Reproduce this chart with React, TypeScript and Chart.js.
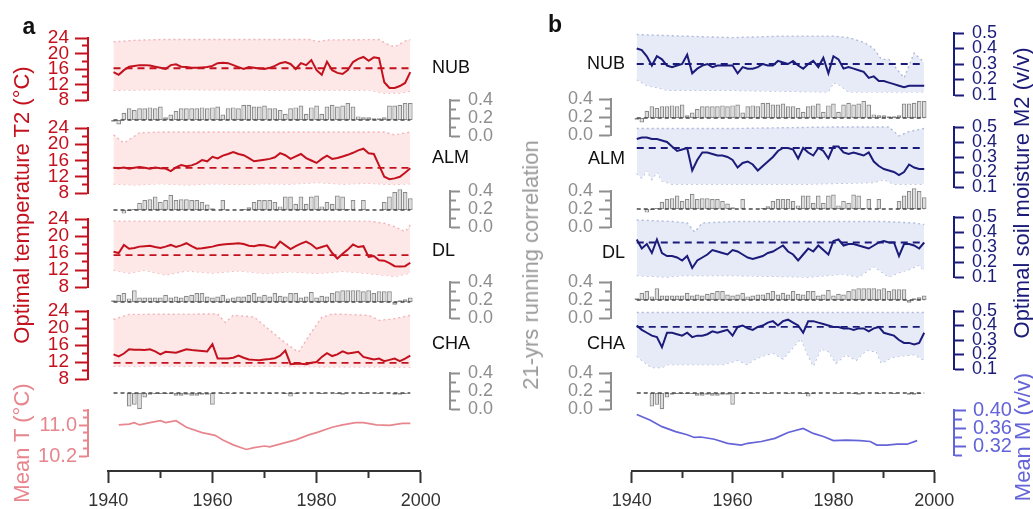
import React, { useEffect, useRef } from 'react';
import { Chart, registerables } from 'chart.js';
Chart.register(...registerables);

const FONT = '"Liberation Sans", Arial, Helvetica, sans-serif';
Chart.defaults.font.family = FONT;

// ---------------- data ----------------
const YEARS = [1941, 1942, 1943, 1944, 1945, 1946, 1947, 1948, 1949, 1950,
  1951, 1952, 1953, 1954, 1955, 1956, 1957, 1958, 1959, 1960,
  1961, 1962, 1963, 1964, 1965, 1966, 1967, 1968, 1969, 1970,
  1971, 1972, 1973, 1974, 1975, 1976, 1977, 1978, 1979, 1980,
  1981, 1982, 1983, 1984, 1985, 1986, 1987, 1988, 1989, 1990,
  1991, 1992, 1993, 1994, 1995, 1996, 1997, 1998];

const SITES = ['NUB', 'ALM', 'DL', 'CHA'];

// optimal temperature T2 (°C), panel a
const T_NUB = [15.2, 14.5, 15.7, 16.6, 16.8, 17.0, 17.0, 16.9, 16.6, 16.3,
  16.0, 17.0, 17.2, 16.6, 16.5, 16.3, 16.3, 16.4, 16.5, 16.8,
  17.5, 17.6, 17.5, 17.0, 16.5, 16.0, 16.5, 16.3, 16.1, 16.0,
  16.3, 16.8, 17.5, 17.8, 17.3, 16.0, 17.5, 17.0, 18.3, 15.7,
  14.5, 17.9, 15.7, 15.0, 14.7, 15.7, 17.8, 18.6, 19.1, 18.1,
  19.0, 18.8, 12.6, 11.1, 11.1, 11.6, 12.4, 15.2];
const T_ALM = [14.2, 14.1, 14.3, 14.0, 14.2, 14.4, 14.2, 14.0, 14.3, 14.1,
  14.0, 13.4, 14.3, 14.9, 14.6, 14.8, 15.3, 16.1, 15.8, 16.9,
  16.5, 17.2, 17.6, 18.1, 17.6, 17.3, 16.6, 15.8, 16.0, 16.2,
  16.4, 16.8, 17.8, 17.3, 16.4, 17.0, 17.6, 16.6, 16.0, 15.4,
  16.4, 17.2, 16.4, 16.6, 17.0, 17.4, 17.9, 18.5, 18.9, 17.8,
  17.6, 14.8, 12.0, 11.4, 11.6, 12.0, 13.0, 14.1];
const T_DL = [16.3, 16.0, 17.9, 17.0, 17.2, 17.5, 17.6, 17.7, 17.4, 17.2,
  17.5, 17.9, 17.4, 17.8, 18.3, 17.6, 17.0, 17.1, 17.3, 17.5,
  17.8, 18.0, 18.1, 18.2, 18.3, 18.1, 17.7, 17.6, 17.9, 17.8,
  17.5, 17.2, 18.7, 17.8, 16.9, 17.6, 18.2, 18.7, 18.0, 17.0,
  17.4, 17.8, 16.0, 14.7, 15.8, 16.8, 18.0, 17.4, 17.6, 15.1,
  15.3, 14.3, 14.2, 13.6, 12.9, 12.8, 12.9, 13.7];
const T_CHA = [13.8, 13.3, 14.0, 15.0, 14.9, 14.9, 14.8, 15.0, 14.5, 13.8,
  14.4, 14.3, 14.2, 14.6, 15.0, 14.8, 14.7, 14.6, 14.5, 16.2,
  12.8, 12.8, 12.8, 13.0, 13.5, 13.0, 12.6, 12.5, 12.4, 12.6,
  12.7, 12.9, 13.5, 14.7, 11.5, 11.6, 11.6, 11.5, 11.8, 12.0,
  13.2, 14.1, 13.4, 13.8, 14.5, 14.0, 14.2, 14.4, 13.2, 12.9,
  12.6, 12.8, 12.2, 12.5, 12.8, 12.2, 12.8, 13.5];
const T_OPT = [16.2, 14.2, 15.5, 11.8];

// upper / lower envelope of T2, [year, °C]
const T_UP_NUB = [[1941, 23.0], [1945, 23.4], [1950, 23.6], [1979, 23.6], [1980, 23.0], [1982, 23.5], [1992, 23.6], [1993.5, 22.5], [1995, 21.7], [1997, 23.2], [1998, 23.6]];
const T_LO_NUB = [[1941, 10.5], [1950, 10.7], [1970, 10.6], [1990, 10.6], [1993, 9.8], [1996, 9.8], [1998, 10.3]];
const T_UP_ALM = [[1941, 22.3], [1943, 20.3], [1946, 22.8], [1950, 23.0], [1993, 23.0], [1995, 22.3], [1998, 23.0]];
const T_LO_ALM = [[1941, 10.2], [1945, 10.0], [1950, 10.3], [1955, 10.0], [1960, 10.3], [1965, 10.1], [1970, 10.3], [1975, 10.2], [1980, 10.6], [1985, 10.2], [1990, 10.4], [1995, 10.1], [1998, 10.3]];
const T_UP_DL = [[1941, 23.5], [1990, 23.5], [1993, 23.0], [1995, 22.2], [1997, 21.0], [1998, 22.6]];
const T_LO_DL = [[1941, 12.0], [1944, 11.3], [1947, 12.0], [1951, 10.8], [1955, 11.8], [1960, 11.3], [1965, 11.8], [1970, 11.2], [1975, 11.6], [1980, 11.2], [1985, 11.7], [1990, 11.2], [1995, 10.5], [1998, 11.3]];
const T_UP_CHA = [[1941, 22.0], [1944, 23.2], [1961, 23.3], [1962.5, 21.3], [1964, 23.0], [1968, 22.6], [1971, 19.5], [1974, 16.5], [1976.5, 14.3], [1979, 19.0], [1981, 22.5], [1983, 23.3], [1990, 23.0], [1992, 21.8], [1995, 22.2], [1998, 23.0]];
const T_LO_CHA = [[1941, 11.0], [1950, 11.1], [1960, 10.9], [1970, 11.0], [1980, 10.9], [1990, 10.9], [1998, 10.8]];

// mean temperature, [year, °C]
const MEAN_T = [[1942, 11.01], [1944, 11.03], [1945, 11.07], [1946, 11.01], [1948, 11.07], [1950, 11.12], [1951, 11.07], [1953, 11.12], [1955, 10.95], [1958, 10.81], [1960.5, 10.74], [1962, 10.62], [1964, 10.49], [1966.5, 10.37], [1968, 10.42], [1970, 10.46], [1971, 10.44], [1974, 10.55], [1976, 10.62], [1978.5, 10.75], [1980, 10.81], [1983, 10.95], [1985, 11.01], [1987.5, 11.07], [1989, 11.07], [1991.5, 11.01], [1994, 11.0], [1996.5, 11.05], [1998, 11.05]];

// 21-yr running correlation (shared by both panels)
const R_NUB = [-0.02, -0.05, 0.08, 0.13, 0.11, 0.13, 0.13, 0.14, 0.13, 0.15,
  0.03, 0.06, 0.10, 0.13, 0.13, 0.13, 0.13, 0.14, 0.13, 0.14,
  0.15, 0.06, 0.13, 0.14, 0.13, 0.17, 0.17, 0.15, 0.15, 0.16,
  0.13, 0.13, 0.11, 0.07, 0.13, 0.14, 0.16, 0.07, 0.14, 0.16,
  0.07, 0.15, 0.17, 0.15, 0.16, 0.19, 0.15, 0.04, 0.03, 0.03,
  0.02, 0.02, 0.03, 0.16, 0.16, 0.17, 0.19, 0.19];
const R_ALM = [0.0, 0.0, -0.04, -0.01, 0.01, 0.08, 0.11, 0.12, 0.15, 0.09,
  0.11, 0.17, 0.11, 0.12, 0.12, 0.11, 0.11, 0.09, 0.06, 0.02,
  0.0, 0.11, 0.0, 0.0, 0.0, 0.01, 0.03, 0.09, 0.11, 0.11,
  0.11, 0.09, 0.04, 0.15, 0.15, 0.07, 0.15, 0.07, 0.15, 0.16,
  0.04, 0.09, 0.07, 0.16, 0.15, 0.01, 0.11, 0.0, 0.11, 0.0,
  0.0, 0.0, 0.09, 0.15, 0.20, 0.23, 0.20, 0.13];
const R_DL = [0.02, 0.08, 0.10, 0.04, 0.13, 0.05, 0.05, 0.05, 0.05, 0.05,
  0.08, 0.05, 0.06, 0.05, 0.07, 0.08, 0.10, 0.10, 0.06, 0.05,
  0.06, 0.08, 0.04, 0.05, 0.06, 0.06, 0.08, 0.10, 0.06, 0.08,
  0.06, 0.10, 0.07, 0.06, 0.10, 0.10, 0.05, 0.06, 0.11, 0.05,
  0.07, 0.06, 0.10, 0.12, 0.13, 0.13, 0.13, 0.13, 0.12, 0.13,
  0.10, 0.12, 0.12, 0.12, -0.03, 0.02, 0.03, 0.05];
const R_CHA = [0.0, 0.0, 0.0, -0.15, -0.13, -0.18, -0.05, -0.02, -0.01, -0.01,
  -0.01, -0.01, -0.03, -0.03, -0.02, -0.03, -0.03, -0.02, -0.02, -0.13,
  0.0, -0.01, 0.0, -0.01, 0.0, 0.0, -0.01, 0.0, 0.0, 0.0,
  -0.01, 0.0, 0.0, -0.01, -0.04, -0.01, 0.0, 0.0, 0.0, 0.0,
  -0.01, 0.0, 0.0, -0.01, -0.02, 0.0, 0.0, 0.0, -0.01, 0.0,
  0.0, -0.01, 0.0, 0.0, -0.02, -0.02, -0.01, 0.0];

// optimal soil moisture M2 (v/v), panel b
const M_NUB = [0.40, 0.39, 0.35, 0.29, 0.35, 0.33, 0.29, 0.28, 0.29, 0.30,
  0.36, 0.24, 0.27, 0.29, 0.30, 0.28, 0.29, 0.29, 0.29, 0.29,
  0.24, 0.28, 0.27, 0.27, 0.28, 0.30, 0.29, 0.29, 0.32, 0.31,
  0.30, 0.32, 0.29, 0.27, 0.30, 0.32, 0.28, 0.34, 0.24, 0.35,
  0.33, 0.27, 0.28, 0.27, 0.26, 0.25, 0.21, 0.22, 0.19, 0.19,
  0.18, 0.17, 0.16, 0.15, 0.16, 0.16, 0.16, 0.16];
const M_ALM = [0.42, 0.43, 0.43, 0.42, 0.42, 0.41, 0.40, 0.37, 0.34, 0.35,
  0.36, 0.21, 0.28, 0.33, 0.33, 0.32, 0.31, 0.31, 0.30, 0.28,
  0.23, 0.26, 0.27, 0.25, 0.21, 0.24, 0.27, 0.30, 0.34, 0.36,
  0.36, 0.35, 0.29, 0.36, 0.33, 0.31, 0.36, 0.34, 0.29, 0.37,
  0.37, 0.33, 0.32, 0.33, 0.32, 0.31, 0.33, 0.27, 0.24, 0.22,
  0.21, 0.20, 0.18, 0.20, 0.25, 0.23, 0.22, 0.22];
const M_DL = [0.35, 0.29, 0.32, 0.26, 0.35, 0.26, 0.24, 0.24, 0.23, 0.21,
  0.24, 0.16, 0.21, 0.23, 0.25, 0.28, 0.27, 0.26, 0.25, 0.28,
  0.27, 0.25, 0.23, 0.22, 0.23, 0.24, 0.26, 0.27, 0.29, 0.31,
  0.27, 0.25, 0.21, 0.25, 0.29, 0.27, 0.31, 0.28, 0.25, 0.34,
  0.35, 0.31, 0.32, 0.32, 0.31, 0.30, 0.29, 0.31, 0.33, 0.34,
  0.33, 0.33, 0.24, 0.32, 0.32, 0.31, 0.29, 0.33];
const M_CHA = [0.40, 0.37, 0.35, 0.33, 0.32, 0.25, 0.35, 0.35, 0.34, 0.33,
  0.35, 0.32, 0.33, 0.33, 0.34, 0.36, 0.35, 0.36, 0.37, 0.33,
  0.39, 0.40, 0.38, 0.37, 0.39, 0.40, 0.42, 0.43, 0.40, 0.43,
  0.44, 0.42, 0.40, 0.35, 0.43, 0.43, 0.42, 0.41, 0.40, 0.39,
  0.39, 0.38, 0.38, 0.37, 0.38, 0.38, 0.36, 0.38, 0.39, 0.35,
  0.34, 0.33, 0.30, 0.28, 0.28, 0.27, 0.28, 0.35];
const M_OPT = [0.30, 0.36, 0.33, 0.39];

const M_UP_NUB = [[1941, 0.49], [1950, 0.48], [1960, 0.47], [1970, 0.48], [1980, 0.48], [1983, 0.47], [1986, 0.44], [1988, 0.40], [1989.5, 0.33], [1991, 0.33], [1992.5, 0.27], [1994, 0.21], [1996, 0.37], [1998, 0.31]];
const M_LO_NUB = [[1941, 0.20], [1943, 0.16], [1945, 0.15], [1947, 0.13], [1960, 0.13], [1979, 0.12], [1980, 0.18], [1981, 0.17], [1983, 0.12], [1998, 0.12]];
const M_UP_ALM = [[1941, 0.49], [1960, 0.49], [1980, 0.50], [1991, 0.50], [1993, 0.44], [1995, 0.47], [1998, 0.49]];
const M_LO_ALM = [[1941, 0.19], [1942, 0.16], [1943, 0.21], [1944, 0.15], [1945, 0.20], [1946, 0.14], [1948, 0.12], [1960, 0.12], [1975, 0.12], [1988, 0.13], [1990, 0.15], [1992, 0.12], [1998, 0.12]];
const M_UP_DL = [[1941, 0.48], [1948, 0.47], [1951, 0.46], [1952.5, 0.40], [1954, 0.46], [1960, 0.47], [1990, 0.47], [1996, 0.46], [1998, 0.45]];
const M_LO_DL = [[1941, 0.11], [1947, 0.10], [1950, 0.11], [1960, 0.11], [1975, 0.10], [1982, 0.12], [1985, 0.10], [1988, 0.17], [1991, 0.10], [1993, 0.13], [1995, 0.15], [1997, 0.18], [1998, 0.14]];
const M_UP_CHA = [[1941, 0.49], [1960, 0.49], [1980, 0.49], [1998, 0.49]];
const M_LO_CHA = [[1941, 0.19], [1942, 0.16], [1944, 0.11], [1946, 0.11], [1947, 0.13], [1950, 0.13], [1958, 0.13], [1961, 0.16], [1963, 0.13], [1964, 0.16], [1966, 0.19], [1968, 0.21], [1970, 0.17], [1972, 0.25], [1973.5, 0.31], [1975, 0.19], [1976, 0.12], [1977.5, 0.24], [1979, 0.22], [1980.5, 0.14], [1982.5, 0.20], [1984.5, 0.16], [1986.5, 0.23], [1988.5, 0.22], [1989.5, 0.14], [1991.5, 0.18], [1993.5, 0.19], [1996, 0.20], [1998, 0.16]];

const MEAN_M = [[1941, 0.390], [1943.6, 0.378], [1946, 0.363], [1948.7, 0.352], [1951, 0.345], [1952.4, 0.339], [1953.7, 0.340], [1956.4, 0.335], [1959, 0.326], [1961.7, 0.322], [1963, 0.326], [1965.7, 0.330], [1968.4, 0.337], [1971, 0.350], [1974, 0.359], [1976, 0.348], [1978, 0.341], [1980, 0.332], [1982.6, 0.333], [1985.3, 0.332], [1987.3, 0.330], [1988.6, 0.322], [1990.6, 0.322], [1992.6, 0.324], [1994.6, 0.324], [1996.6, 0.332]];

// ticks
const X_TICKS = [1940, 1950, 1960, 1970, 1980, 1990, 2000];
const X_LABELS = [1940, 1960, 1980, 2000];
const T_TICKS = [8, 10, 12, 14, 16, 18, 20, 22, 24];
const T_LABELS = [8, 12, 16, 20, 24];
const R_TICKS = [0, 0.1, 0.2, 0.3, 0.4];
const R_LABELS = [0, 0.2, 0.4];
const M_TICKS = [0.1, 0.2, 0.3, 0.4, 0.5];
const MT_TICKS = [10.2, 10.4, 10.6, 10.8, 11.0, 11.2, 11.4];
const MT_LABELS = [10.2, 11.0];
const MM_TICKS = [0.30, 0.32, 0.34, 0.36, 0.38, 0.40];
const MM_LABELS = [0.32, 0.36, 0.40];

// ---------------- styles & layout ----------------
const CW = 1033, CH = 509, TOP = 30, XAX_H = 38, BOTTOM = CH - XAX_H;
const BAR_PX = 90; // px per correlation unit (0.4 spans 36 px)
const RED = '#c3121e', MEANT_C = '#e8868e', T_FILL = '#fde7e7', T_DOT = '#f2b3b8';
const NAVY = '#1b1b7a', MEANM_C = '#6464d8', M_FILL = '#e7ebf8', M_DOT = '#b1badb';
const GRAY = '#8e8e8e', BAR_FILL = '#dcdcdc', BAR_EDGE = '#8a8a8a', BASE_C = '#4a4a4a';
const AX_C = '#333333';

const A_T_BOX = [[38, 100], [128, 193], [219, 287], [311, 379]];
const A_B_BOX = [[100, 128], [193, 219], [287, 311], [379, 410]];
const A_B_BASE = [120, 210, 302, 393];
const A_MEAN_BOX = [410, 456];
const A_R_BOX = [[100, 136], [191, 227], [282, 318], [373, 409]];
const A_GEO = { left: 88, right: 450, x0: 108.3, x1: 420.7, lw: 50, rw: 60 };

const B_M_BOX = [[33, 95], [127, 187], [217, 277], [311, 369]];
const B_B_BOX = [[95, 127], [187, 217], [277, 311], [369, 410]];
const B_B_BASE = [118, 209, 300, 393];
const B_MEAN_BOX = [410, 455];
const B_R_BOX = [[99, 135], [191, 227], [282, 318], [373, 409]];
const B_GEO = { left: 611, right: 954, x0: 631.7, x1: 934.3, lw: 60, rw: 70 };

// ---------------- helpers ----------------
const pts = (arr: number[][]) => arr.map(([x, y]) => ({ x, y }));
const yearly = (vals: number[]) => YEARS.map((x, i) => ({ x, y: vals[i] }));
const flat = (v: number) => [{ x: YEARS[0], y: v }, { x: YEARS[YEARS.length - 1], y: v }];
const has = (list: number[], v: number) => list.some((l) => Math.abs(l - v) < 1e-6);

function hidden(min: number, max: number) {
  return {
    type: 'linear', min, max, display: true,
    ticks: { display: false }, grid: { display: false, drawTicks: false }, border: { display: false },
  };
}

function visAxis(min: number, max: number, ticks: number[], labels: number[], color: string,
  tickLen: number, minorDash: number[], pad: number, digits: number, size = 18) {
  return {
    type: 'linear', min, max, display: true,
    afterBuildTicks: (s: any) => { s.ticks = ticks.map((v) => ({ value: v })); },
    ticks: {
      autoSkip: false, color, padding: pad, maxRotation: 0, minRotation: 0,
      font: { family: FONT, size },
      callback: (v: any) => (has(labels, Number(v)) ? Number(v).toFixed(digits) : ''),
    },
    grid: {
      display: true, drawOnChartArea: false, drawTicks: true, offset: false,
      tickLength: tickLen, tickWidth: 2, tickColor: color,
      tickBorderDash: (ctx: any) => (ctx && ctx.tick && !has(labels, ctx.tick.value) ? minorDash : []),
    },
    border: { display: true, color, width: 2 },
  };
}

type Item = { id: string; top: number; bottom: number; def: any };
function tileY(items: Item[], position: 'left' | 'right', stack: string, width: number) {
  const sorted = [...items].sort((a, b) => a.top - b.top);
  const all: Item[] = [];
  let cur = TOP, k = 0;
  for (const it of sorted) {
    if (it.top > cur + 0.01) all.push({ id: `${stack}sp${k++}`, top: cur, bottom: it.top, def: hidden(0, 1) });
    all.push(it);
    cur = it.bottom;
  }
  if (BOTTOM > cur + 0.01) all.push({ id: `${stack}sp${k++}`, top: cur, bottom: BOTTOM, def: hidden(0, 1) });
  const n = all.length;
  const out: Record<string, any> = {};
  all.forEach((it, i) => {
    out[it.id] = {
      ...it.def, axis: 'y', position, stack, stackWeight: it.bottom - it.top,
      weight: position === 'left' ? n - i : i,
      afterFit: (s: any) => { s.width = width; },
    };
  });
  return out;
}

function xStack(geo: any) {
  const fit = (s: any) => { s.height = XAX_H; };
  const main = visAxis(1940, 2000, X_TICKS, X_LABELS, AX_C, 12, [6, 100], 7, 0, 18);
  return {
    xsl: { ...hidden(0, 1), axis: 'x', position: 'bottom', stack: 'bx', stackWeight: geo.x0 - geo.left, weight: 0, afterFit: fit },
    x: { ...main, axis: 'x', position: 'bottom', offset: false, stack: 'bx', stackWeight: geo.x1 - geo.x0, weight: 1, afterFit: fit },
    xsr: { ...hidden(0, 1), axis: 'x', position: 'bottom', stack: 'bx', stackWeight: geo.right - geo.x1, weight: 2, afterFit: fit },
  };
}

function lineDs(data: any[], yAxisID: string, color: string, width: number, order: number, dash: number[] = []) {
  return {
    type: 'line', data, xAxisID: 'x', yAxisID, borderColor: color, borderWidth: width, borderDash: dash,
    pointRadius: 0, tension: 0, fill: false, order, clip: false,
  };
}
function bandDs(up: number[][], lo: number[][], yAxisID: string, dot: string, fillC: string) {
  return [
    { ...lineDs(pts(up), yAxisID, dot, 1.4, 6, [2, 3]), fill: '+1', backgroundColor: fillC },
    lineDs(pts(lo), yAxisID, dot, 1.4, 6, [2, 3]),
  ];
}
function barDs(vals: number[], yAxisID: string) {
  return [
    {
      type: 'bar', data: yearly(vals), xAxisID: 'x', yAxisID, backgroundColor: BAR_FILL, borderColor: BAR_EDGE,
      borderWidth: 1.2, borderSkipped: false, grouped: false, barPercentage: 1, categoryPercentage: 0.9, order: 4, clip: false,
    },
    lineDs(flat(0), yAxisID, BASE_C, 1.5, 3, [4, 3]),
  ];
}

function baseOptions(geo: any, scales: any) {
  return {
    animation: false, responsive: false, devicePixelRatio: 1, events: [],
    layout: { padding: { left: geo.left - geo.lw, right: CW - geo.right - geo.rw, top: TOP, bottom: 0 } },
    plugins: { legend: { display: false }, tooltip: { enabled: false }, title: { display: false } },
    scales,
  };
}

function configA(): any {
  const T_SERIES = [T_NUB, T_ALM, T_DL, T_CHA];
  const UPS = [T_UP_NUB, T_UP_ALM, T_UP_DL, T_UP_CHA];
  const LOS = [T_LO_NUB, T_LO_ALM, T_LO_DL, T_LO_CHA];
  const R_SERIES = [R_NUB, R_ALM, R_DL, R_CHA];
  const left: Item[] = [];
  const right: Item[] = [];
  const datasets: any[] = [];
  SITES.forEach((s, i) => {
    const [tt, tb] = A_T_BOX[i];
    left.push({ id: 't' + s, top: tt, bottom: tb, def: visAxis(8, 24, T_TICKS, T_LABELS, RED, 13, [0, 7, 100], 6, 0, 19) });
    const [bt, bb] = A_B_BOX[i];
    const base = A_B_BASE[i];
    left.push({ id: 'b' + s, top: bt, bottom: bb, def: hidden(-(bb - base) / BAR_PX, (base - bt) / BAR_PX) });
    const [rt, rb] = A_R_BOX[i];
    right.push({ id: 'r' + s, top: rt, bottom: rb, def: visAxis(0, 0.4, R_TICKS, R_LABELS, GRAY, 10, [5, 100], 8, 1, 18) });
    datasets.push(...bandDs(UPS[i], LOS[i], 't' + s, T_DOT, T_FILL));
    datasets.push(lineDs(flat(T_OPT[i]), 't' + s, RED, 1.8, 2, [7, 5]));
    datasets.push(lineDs(yearly(T_SERIES[i]), 't' + s, RED, 2, 1));
    datasets.push(...barDs(R_SERIES[i], 'b' + s));
  });
  left.push({ id: 'meanT', top: A_MEAN_BOX[0], bottom: A_MEAN_BOX[1], def: visAxis(10.2, 11.4, MT_TICKS, MT_LABELS, MEANT_C, 9, [0, 4, 100], 2, 1, 20) });
  datasets.push(lineDs(pts(MEAN_T), 'meanT', MEANT_C, 1.7, 1));
  const scales = { ...xStack(A_GEO), ...tileY(left, 'left', 'aL', A_GEO.lw), ...tileY(right, 'right', 'aR', A_GEO.rw) };
  return { type: 'line', data: { datasets }, options: baseOptions(A_GEO, scales) };
}

function configB(): any {
  const M_SERIES = [M_NUB, M_ALM, M_DL, M_CHA];
  const UPS = [M_UP_NUB, M_UP_ALM, M_UP_DL, M_UP_CHA];
  const LOS = [M_LO_NUB, M_LO_ALM, M_LO_DL, M_LO_CHA];
  const R_SERIES = [R_NUB, R_ALM, R_DL, R_CHA];
  const left: Item[] = [];
  const right: Item[] = [];
  const datasets: any[] = [];
  SITES.forEach((s, i) => {
    const [mt, mb] = B_M_BOX[i];
    right.push({ id: 'm' + s, top: mt, bottom: mb, def: visAxis(0.1, 0.5, M_TICKS, M_TICKS, NAVY, 10, [], 8, 1, 18) });
    const [bt, bb] = B_B_BOX[i];
    const base = B_B_BASE[i];
    right.push({ id: 'b' + s, top: bt, bottom: bb, def: hidden(-(bb - base) / BAR_PX, (base - bt) / BAR_PX) });
    const [rt, rb] = B_R_BOX[i];
    left.push({ id: 'r' + s, top: rt, bottom: rb, def: visAxis(0, 0.4, R_TICKS, R_LABELS, GRAY, 12, [0, 6, 100], 6, 1, 18) });
    datasets.push(...bandDs(UPS[i], LOS[i], 'm' + s, M_DOT, M_FILL));
    datasets.push(lineDs(flat(M_OPT[i]), 'm' + s, NAVY, 1.8, 2, [7, 5]));
    datasets.push(lineDs(yearly(M_SERIES[i]), 'm' + s, NAVY, 2, 1));
    datasets.push(...barDs(R_SERIES[i], 'b' + s));
  });
  right.push({ id: 'meanM', top: B_MEAN_BOX[0], bottom: B_MEAN_BOX[1], def: visAxis(0.30, 0.40, MM_TICKS, MM_LABELS, MEANM_C, 12, [7, 100], 7, 2, 20) });
  datasets.push(lineDs(pts(MEAN_M), 'meanM', MEANM_C, 1.7, 1));
  const scales = { ...xStack(B_GEO), ...tileY(left, 'left', 'bL', B_GEO.lw), ...tileY(right, 'right', 'bR', B_GEO.rw) };
  return { type: 'line', data: { datasets }, options: baseOptions(B_GEO, scales) };
}

// ---------------- text overlay ----------------
type TxtProps = { x: number; y: number; text: string; color?: string; size?: number; anchor?: 'left' | 'right' | 'center'; rot?: boolean; bold?: boolean };
function Txt({ x, y, text, color = '#111', size = 17, anchor = 'left', rot = false, bold = false }: TxtProps) {
  const style: any = {
    position: 'absolute', top: y, whiteSpace: 'nowrap', color, fontSize: size, lineHeight: 1,
    fontWeight: bold ? 700 : 400, fontFamily: FONT,
  };
  if (rot) {
    style.left = x;
    style.transform = 'translate(-50%, -50%) rotate(-90deg)';
  } else if (anchor === 'right') {
    style.right = CW - x;
    style.transform = 'translateY(-50%)';
  } else if (anchor === 'center') {
    style.left = x;
    style.transform = 'translate(-50%, -50%)';
  } else {
    style.left = x;
    style.transform = 'translateY(-50%)';
  }
  return <div style={style}>{text}</div>;
}

const A_SITE_Y = [67, 157, 250, 343];
const B_SITE_Y = [63, 158, 252, 343];

export default function App() {
  const aRef = useRef<HTMLCanvasElement>(null);
  const bRef = useRef<HTMLCanvasElement>(null);
  useEffect(() => {
    const ca = new Chart(aRef.current as HTMLCanvasElement, configA());
    const cb = new Chart(bRef.current as HTMLCanvasElement, configB());
    return () => { ca.destroy(); cb.destroy(); };
  }, []);
  return (
    <div style={{ position: 'fixed', left: 0, top: 0, width: CW, height: CH, background: '#fff', overflow: 'hidden', fontFamily: FONT }}>
      <canvas ref={aRef} width={CW} height={CH} style={{ position: 'absolute', left: 0, top: 0 }} />
      <canvas ref={bRef} width={CW} height={CH} style={{ position: 'absolute', left: 0, top: 0 }} />
      <Txt x={29} y={26} text="a" size={23} bold anchor="center" />
      <Txt x={555} y={24} text="b" size={23} bold anchor="center" />
      <Txt x={22} y={205} text="Optimal temperature T2 (°C)" color={RED} size={22} rot />
      <Txt x={22} y={443} text="Mean T (°C)" color={MEANT_C} size={22} rot />
      <Txt x={531} y={265} text="21-yrs running correlation" color="#9a9a9a" size={22} rot />
      <Txt x={1022} y={193} text="Optimal soil moisture M2 (v/v)" color={NAVY} size={22} rot />
      <Txt x={1023} y={437} text="Mean M (v/v)" color={MEANM_C} size={22} rot />
      {SITES.map((s, i) => <Txt key={'a' + s} x={432} y={A_SITE_Y[i]} text={s} size={18} />)}
      {SITES.map((s, i) => <Txt key={'b' + s} x={625} y={B_SITE_Y[i]} text={s} anchor="right" size={18} />)}
    </div>
  );
}
